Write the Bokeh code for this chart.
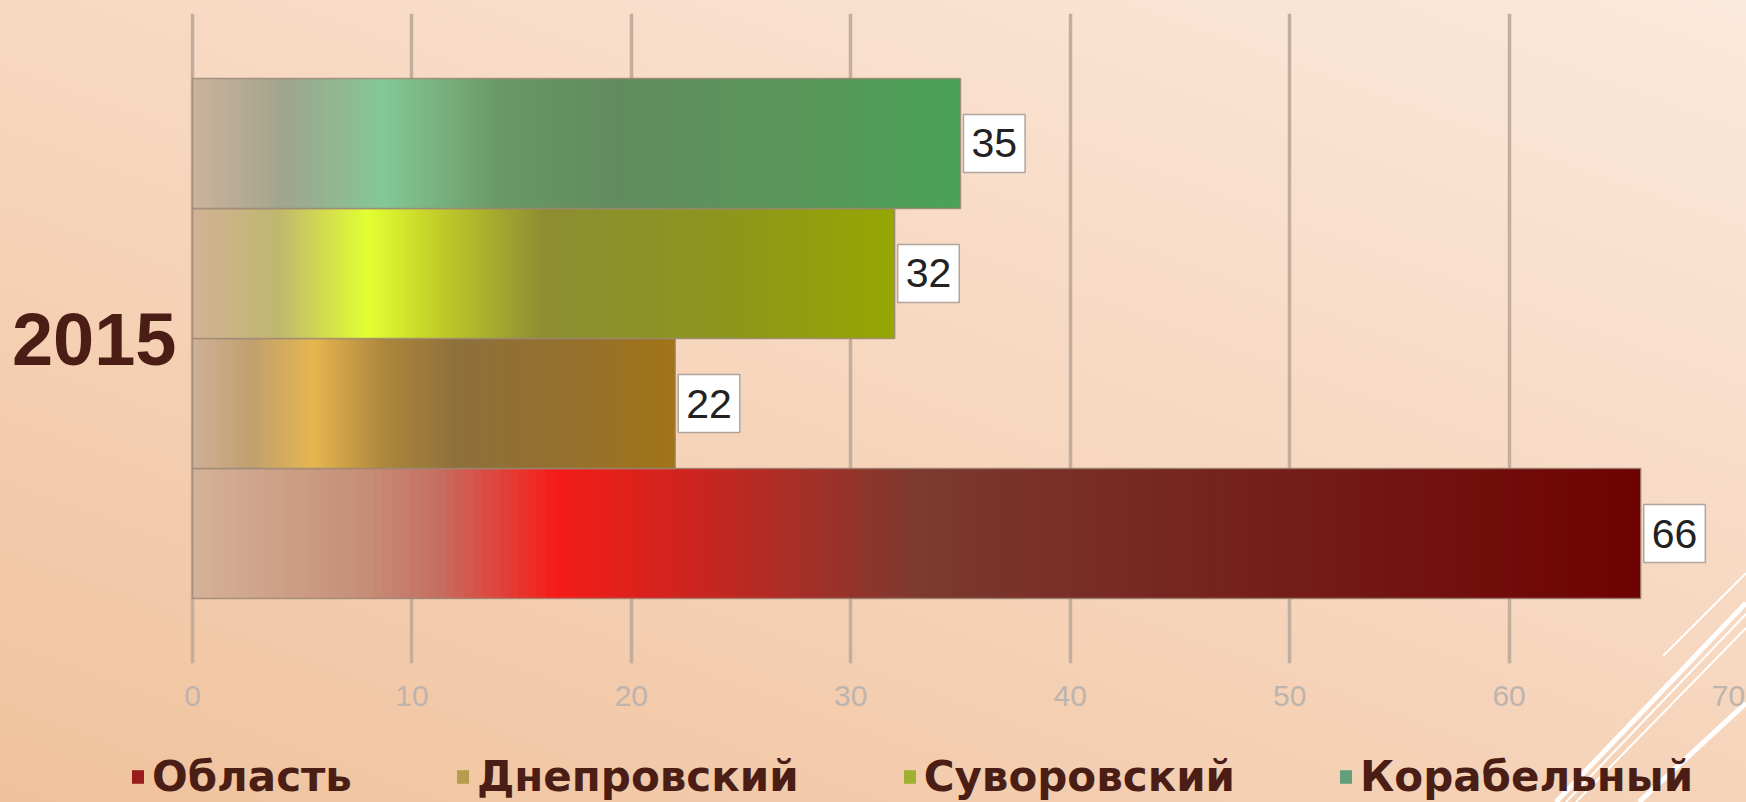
import numpy as np
from bokeh.plotting import figure
from bokeh.layouts import column
from bokeh.models import (ColumnDataSource, FactorRange, Range1d, FixedTicker,
                          Legend, LegendItem, GlobalInlineStyleSheet)
from bokeh.transform import dodge
from bokeh.core.properties import value
from bokeh.embed import file_html
from bokeh.resources import INLINE

# ---------------- data ----------------
years = ["2015"]
series = ["Область", "Днепровский", "Суворовский", "Корабельный"]
values = [66, 22, 32, 35]
x_ticks = [0, 10, 20, 30, 40, 50, 60, 70]

# ---------------- style ----------------
offsets = [-0.3, -0.1, 0.1, 0.3]
bar_height = 0.2
legend_colors = ["#9a1c1c", "#b59c4e", "#a0b032", "#62a07c"]
gradient_stops = [
    [(0.0, (212, 178, 152)), (0.12, (198, 142, 120)), (0.17, (198, 110, 98)),
     (0.25, (246, 28, 24)), (0.36, (198, 38, 32)), (0.5, (124, 58, 48)),
     (0.75, (116, 30, 26)), (1.0, (110, 2, 2))],
    [(0.0, (208, 176, 150)), (0.12, (192, 160, 112)), (0.25, (230, 182, 80)),
     (0.4, (172, 134, 60)), (0.55, (142, 112, 60)), (0.8, (150, 112, 44)),
     (1.0, (162, 116, 22))],
    [(0.0, (210, 178, 150)), (0.12, (192, 182, 112)), (0.25, (226, 255, 50)),
     (0.36, (190, 200, 40)), (0.5, (140, 142, 50)), (0.75, (140, 150, 30)),
     (1.0, (150, 166, 2))],
    [(0.0, (206, 178, 156)), (0.12, (160, 165, 140)), (0.25, (132, 200, 150)),
     (0.4, (106, 152, 102)), (0.55, (98, 140, 95)), (0.8, (88, 150, 90)),
     (1.0, (74, 162, 86))],
]
N_SLICES = 160

# layout geometry (pixels)
FRAME_LEFT = 130      # frame starts here so the legend below can start here too
ZERO_X = 192          # where value 0 sits
MAX_X = 1728          # where the axis end (70) sits
X_END = x_ticks[-1]
x_start = -(ZERO_X - FRAME_LEFT) / ((MAX_X - ZERO_X) / X_END)


def interp_color(stops, t):
    ts = [s[0] for s in stops]
    out = []
    for k in range(3):
        ch = [s[1][k] for s in stops]
        out.append(int(round(np.interp(t, ts, ch))))
    return "#%02x%02x%02x" % tuple(out)


FONT = "Liberation Sans"
LEGEND_FONT = "DejaVu Sans"

p = figure(
    width=1746, height=730,
    y_range=FactorRange(factors=years, range_padding=0),
    x_range=Range1d(x_start, X_END),
    output_backend="svg", toolbar_location=None,
    min_border_left=FRAME_LEFT, min_border_right=1746 - MAX_X,
    min_border_top=13, min_border_bottom=67,
)
p.background_fill_alpha = 0
p.border_fill_alpha = 0
p.outline_line_color = None

bg_svg = ("<svg xmlns='http://www.w3.org/2000/svg' width='200' height='242'>"
          "<g stroke='white' fill='none' stroke-linecap='butt'>"
          "<line x1='117' y1='96' x2='200' y2='13' stroke-width='2'/>"
          "<line x1='10' y1='242' x2='200' y2='43' stroke-width='5'/>"
          "<line x1='20' y1='242' x2='200' y2='54' stroke-width='2'/>"
          "<line x1='30' y1='242' x2='200' y2='68' stroke-width='2'/>"
          "<line x1='93' y1='242' x2='200' y2='143' stroke-width='5'/>"
          "</g></svg>")
css = (
    "html, body { height: 100%; overflow: hidden; }\n"
    "body { background: url(\"data:image/svg+xml;utf8," + bg_svg + "\") no-repeat right bottom, "
    "linear-gradient(200deg, rgb(251,233,219) 0%, rgb(247,216,193) 45%, rgb(240,194,156) 100%); }\n"
)
p.stylesheets = [GlobalInlineStyleSheet(css=css)]

# grid
p.xgrid.grid_line_color = "#c3ad9d"
p.xgrid.grid_line_width = 3.5
p.ygrid.grid_line_color = None

# axes
p.xaxis.ticker = FixedTicker(ticks=x_ticks)
p.xaxis.axis_line_color = None
p.xaxis.major_tick_line_color = None
p.xaxis.minor_tick_line_color = None
p.xaxis.major_tick_out = 0
p.xaxis.major_tick_in = 0
p.xaxis.major_label_standoff = 22
p.xaxis.major_label_text_font = FONT
p.xaxis.major_label_text_font_size = "30px"
p.xaxis.major_label_text_color = "#bdb4ae"

p.yaxis.axis_line_color = None
p.yaxis.major_tick_line_color = None
p.yaxis.minor_tick_line_color = None
p.yaxis.major_tick_out = 0
p.yaxis.major_tick_in = 0
p.yaxis.major_label_standoff = -(ZERO_X - 16 - FRAME_LEFT)
p.yaxis.major_label_text_font = FONT
p.yaxis.major_label_text_font_style = "bold"
p.yaxis.major_label_text_font_size = "74px"
p.yaxis.major_label_text_color = "#4a1d15"

# legend figure (below the chart)
pl = figure(
    width=1746, height=72,
    x_range=Range1d(0, 1), y_range=Range1d(0, 1),
    output_backend="svg", toolbar_location=None,
    x_axis_location=None, y_axis_location=None,
    min_border_left=FRAME_LEFT, min_border_right=1746 - MAX_X,
    min_border_top=0, min_border_bottom=0,
)
pl.grid.visible = False
pl.background_fill_alpha = 0
pl.border_fill_alpha = 0
pl.outline_line_color = None

legend_items = []
for i, name in enumerate(series):
    v = values[i]
    edges = np.linspace(0, v, N_SLICES + 1)
    left = edges[:-1]
    right = np.minimum(edges[1:] + (v / N_SLICES) * 0.9, v)
    mids = (edges[:-1] + edges[1:]) / 2 / v
    colors = [interp_color(gradient_stops[i], t) for t in mids]
    src = ColumnDataSource(dict(y=[years[0]] * N_SLICES, left=left, right=right, color=colors))
    p.hbar(y=dodge("y", offsets[i], range=p.y_range), left="left", right="right",
           height=bar_height, source=src, fill_color="color", line_color=None)

    bsrc = ColumnDataSource(dict(y=[years[0]], v=[v], label=[str(v)]))
    p.hbar(y=dodge("y", offsets[i], range=p.y_range), left=0, right="v",
           height=bar_height, source=bsrc, fill_alpha=0,
           line_color="#9c8676", line_width=1.5, line_alpha=0.8)
    p.text(x="v", y=dodge("y", offsets[i], range=p.y_range), text="label", source=bsrc,
           x_offset=3, text_align="left", text_baseline="middle",
           text_font=value(FONT), text_font_size="41px", text_color="#222222",
           background_fill_color="white", border_line_color="#b0a49c", border_line_width=1.5,
           padding=dict(left=8, right=8, top=15, bottom=15))

    lsrc = ColumnDataSource(dict(y=[i], r=[v]))
    lr = pl.hbar(y="y", right="r", height=0.5, source=lsrc,
                 fill_color=legend_colors[i], line_color=None, visible=False)
    legend_items.append(LegendItem(label=name, renderers=[lr]))

legend = Legend(items=legend_items, location=(0, 1), orientation="horizontal",
                glyph_width=15, glyph_height=17, label_standoff=7, spacing=103,
                padding=0, margin=0, label_height=46,
                label_text_font=LEGEND_FONT, label_text_font_style="bold",
                label_text_font_size="42px", label_text_color="#4a1d15",
                inactive_fill_alpha=0,
                background_fill_alpha=0, border_line_alpha=0)
pl.add_layout(legend)

layout = column(p, pl, spacing=0)
open("out.html", "w").write(file_html(layout, INLINE))
